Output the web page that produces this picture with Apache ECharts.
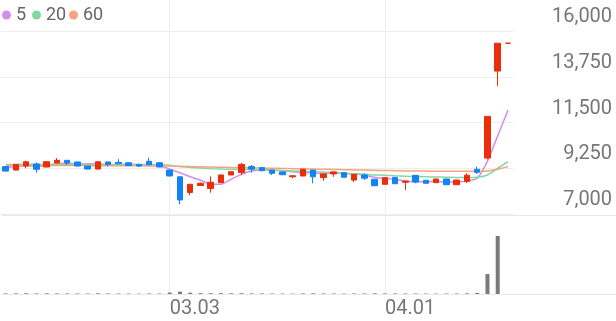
<!DOCTYPE html>
<html><head><meta charset="utf-8">
<script src="https://cdn.jsdelivr.net/npm/echarts@6/dist/echarts.min.js"></script>
<style>html,body{margin:0;padding:0;background:#fff}#c{width:616px;height:321px}</style>
</head><body><div id="c"></div>
<script>
const dates = ['02.03','02.04','02.05','02.06','02.09','02.10','02.11','02.12','02.13','02.19','02.20','02.23','02.24','02.25','02.26','02.27','03.03','03.04','03.05','03.06','03.09','03.10','03.11','03.12','03.13','03.16','03.17','03.18','03.19','03.20','03.23','03.24','03.25','03.26','03.27','03.30','03.31','04.01','04.02','04.03','04.06','04.07','04.08','04.09','04.10','04.13','04.14','04.15','04.16','04.17'];
const openP  = [9330,9160,9360,9460,9310,9510,9640,9560,9360,9210,9560,9540,9520,9430,9590,9520,9160,8830,8060,8400,8250,8540,8920,9040,9330,9280,9160,9070,8830,8870,9160,8790,8970,9030,8670,8920,8710,8460,8800,8560,8900,8660,8540,8720,8440,8600,9200,9750,14030,15400];
const closeP = [9110,9440,9570,9200,9570,9640,9510,9360,9210,9570,9440,9470,9380,9360,9420,9310,8870,7690,8460,8510,8560,8920,9080,9440,9210,9130,9000,8930,8880,9200,8830,8970,9070,8810,8950,8760,8390,8790,8490,8620,8570,8510,8720,8440,8670,8910,9050,11800,15400,15400];
const lowP   = [9100,9150,9250,9030,9300,9500,9410,9350,9200,9200,9330,9460,9370,9310,9410,9300,8860,7480,7930,8380,8050,8530,8910,8910,9030,9120,8920,8920,8760,8860,8510,8640,8830,8800,8570,8670,8380,8450,8480,8180,8510,8500,8530,8430,8430,8520,8970,9690,13300,15400];
const highP  = [9340,9450,9620,9540,9590,9750,9650,9570,9370,9580,9570,9700,9530,9460,9770,9530,9170,8840,8470,8550,8850,8930,9090,9520,9410,9290,9170,9080,8890,9210,9170,8980,9090,9040,8960,9000,8720,8800,8810,8630,8910,8670,8730,8730,8680,9000,9330,11800,15400,15400];
const volume = [250,300,350,280,300,260,240,220,200,300,250,220,200,180,250,220,700,1100,600,400,350,380,320,350,280,240,220,200,180,260,300,240,220,200,240,220,300,260,240,230,220,200,180,200,220,300,500,9400,27300,0];
const ma5  = [9300,9330,9370,9350,9380,9480,9500,9460,9470,9460,9420,9420,9440,9440,9420,9390,9200,9030,8830,8660,8460,8460,8710,8950,9110,9160,9170,9120,9080,9040,9020,9000,9020,9010,8960,8920,8800,8760,8700,8620,8590,8590,8600,8570,8580,8620,8760,9600,10850,12110];
const ma20 = [9440,9440,9450,9440,9440,9450,9450,9440,9430,9440,9440,9440,9430,9430,9430,9420,9400,9330,9290,9260,9230,9210,9200,9200,9190,9180,9160,9140,9120,9100,9080,9060,9040,9010,8980,8950,8920,8910,8880,8860,8840,8830,8820,8810,8800,8800,8810,8920,9250,9570];
const ma60 = [9380,9380,9380,9380,9380,9380,9380,9380,9380,9370,9370,9370,9370,9370,9360,9360,9360,9350,9330,9320,9310,9300,9290,9280,9270,9260,9250,9240,9230,9220,9210,9200,9190,9180,9170,9160,9150,9140,9130,9120,9110,9110,9100,9100,9100,9100,9100,9120,9200,9330];
const maNames = ['5','20','60'];
const dateLabels = ['03.03','04.01'];
const priceMin = 7000, priceMax = 16000, priceStep = 2250;

const UP = '#eb2d0c', DOWN = '#1282f5';
const MA_COLORS = ['#d68cec','#85d7a2','#f6a47e'];
const FONT = 'Roboto, sans-serif';
const showDate = (idx) => dateLabels.indexOf(dates[idx]) >= 0;

const candles = dates.map((d, i) => [openP[i], closeP[i], lowP[i], highP[i]]);
const GL = 0.6, GW = 512.5;

const hiddenCat = (gi) => ({type:'category', gridIndex:gi, data:dates, boundaryGap:true,
  axisLine:{show:false}, axisTick:{show:false}, axisLabel:{show:false}, splitLine:{show:false}});

const chart = echarts.init(document.getElementById('c'), null, {renderer:'canvas'});
chart.setOption({
  animation:false,
  backgroundColor:'#fff',
  textStyle:{fontFamily:FONT},
  legend: maNames.map((n, k) => ({
    data:[n], left:[2,32,69][k], top:6, icon:'circle', itemWidth:9, itemHeight:9,
    selectedMode:false, padding:0,
    textStyle:{fontSize:18, color:'#666', fontFamily:FONT}
  })),
  grid:[
    {left:GL, width:GW, top:31, height:183},
    {left:GL, width:GW, top:215, height:79},
    {left:GL, width:GW, top:0, height:294},
    {left:2, right:0, top:215, height:79}
  ],
  xAxis:[
    hiddenCat(0),
    hiddenCat(1),
    {type:'category', gridIndex:2, data:dates, boundaryGap:true,
      axisLine:{show:false}, axisTick:{show:false},
      axisLabel:{show:true, interval:(i)=>showDate(i), align:'left', margin:5,
        fontSize:20, color:'#777', fontFamily:FONT},
      splitLine:{show:true, interval:(i)=>showDate(i), alignWithLabel:true,
        lineStyle:{color:'#eeeeee', width:1}}},
    {type:'value', gridIndex:3, min:0, max:1, show:false}
  ],
  yAxis:[
    {type:'value', gridIndex:0, position:'right', min:priceMin, max:priceMax, interval:priceStep,
      axisLine:{show:false}, axisTick:{show:false},
      axisLabel:{align:'right', margin:99, verticalAlign:'bottom', padding:[0,0,4,0],
        fontSize:20, color:'#777', fontFamily:FONT,
        formatter:(v)=>v.toLocaleString('en-US')},
      splitLine:{show:true, lineStyle:{color:'#eeeeee', width:1}}},
    {type:'value', gridIndex:1, min:0, max:37200, show:false},
    {type:'value', gridIndex:2, min:0, max:1, show:false},
    {type:'value', gridIndex:3, min:0, max:1, interval:1,
      axisLine:{show:false}, axisTick:{show:false}, axisLabel:{show:false},
      splitLine:{show:true, lineStyle:{color:'#e8e8e8', width:1}}}
  ],
  series:[
    ...maNames.map((n, k) => ({
      name:n, type:'line', xAxisIndex:0, yAxisIndex:0,
      data:[ma5, ma20, ma60][k], symbol:'none', smooth:0.2,
      color:MA_COLORS[k], lineStyle:{width:1.5, color:MA_COLORS[k]}, z:1
    })),
    {type:'candlestick', xAxisIndex:0, yAxisIndex:0, data:candles, barWidth:6, z:3,
      itemStyle:{color:UP, color0:DOWN, borderColor:UP, borderColor0:DOWN, borderColorDoji:UP, borderWidth:1}},
    {type:'bar', xAxisIndex:1, yAxisIndex:1, data:volume, barWidth:4,
      itemStyle:{color:'#7a7a7a'}}
  ]
});
</script></body></html>
